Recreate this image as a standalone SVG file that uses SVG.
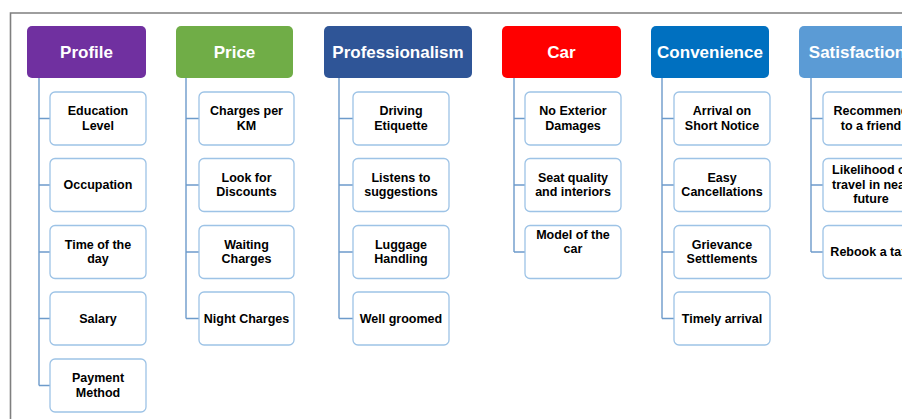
<svg xmlns="http://www.w3.org/2000/svg" width="902" height="419" viewBox="0 0 902 419">
<style>
.hdr rect{stroke:none}
.hdr text{fill:#fff;font-family:"Liberation Sans",Arial,sans-serif;font-weight:bold;font-size:17px;text-anchor:middle}
.box rect{fill:#fff;stroke:#9dc3e6;stroke-width:1.3}
.box text{fill:#000;font-family:"Liberation Sans",Arial,sans-serif;font-weight:bold;font-size:12.5px;text-anchor:middle}
.conn path{fill:none;stroke:#6d9bcb;stroke-width:1.4}
</style>
<rect width="902" height="419" fill="#fff"/>
<path d="M10.5,419 V13 H902" fill="none" stroke="#7f7f7f" stroke-width="1.6"/>
<g class="conn" id="connectors">
<path d="M39,78 V385.5 M39,118.5 H50 M39,185 H50 M39,252 H50 M39,318.5 H50 M39,385.5 H50"/>
<path d="M186,78 V318.5 M186,118.5 H199 M186,185 H199 M186,252 H199 M186,318.5 H199"/>
<path d="M339,78 V318.5 M339,118.5 H353 M339,185 H353 M339,252 H353 M339,318.5 H353"/>
<path d="M514,78 V252 M514,118.5 H525 M514,185 H525 M514,252 H525"/>
<path d="M662,78 V318.5 M662,118.5 H674 M662,185 H674 M662,252 H674 M662,318.5 H674"/>
<path d="M811,78 V252 M811,118.5 H823 M811,185 H823 M811,252 H823"/>
</g>
<g class="hdr" id="h-profile"><rect x="27" y="26" width="119" height="52" rx="5" fill="#7030a0"/><text x="86.5" y="57.5">Profile</text></g>
<g class="hdr" id="h-price"><rect x="176" y="26" width="117" height="52" rx="5" fill="#70ad47"/><text x="234.5" y="57.5">Price</text></g>
<g class="hdr" id="h-prof"><rect x="324" y="26" width="148" height="52" rx="5" fill="#2f5597"/><text x="398" y="57.5">Professionalism</text></g>
<g class="hdr" id="h-car"><rect x="502" y="26" width="119" height="52" rx="5" fill="#ff0000"/><text x="561.5" y="57.5">Car</text></g>
<g class="hdr" id="h-conv"><rect x="651" y="26" width="118" height="52" rx="5" fill="#0070c0"/><text x="710" y="57.5">Convenience</text></g>
<g class="hdr" id="h-sat"><rect x="799" y="26" width="116" height="52" rx="5" fill="#5b9bd5"/><text x="857" y="57.5">Satisfaction</text></g>

<g class="box" id="p1"><rect x="50" y="92" width="96" height="53" rx="5"/><text x="98" y="115">Education</text><text x="98" y="129.5">Level</text></g>
<g class="box" id="p2"><rect x="50" y="158.5" width="96" height="53" rx="5"/><text x="98" y="189">Occupation</text></g>
<g class="box" id="p3"><rect x="50" y="225.5" width="96" height="53" rx="5"/><text x="98" y="248.5">Time of the</text><text x="98" y="263">day</text></g>
<g class="box" id="p4"><rect x="50" y="292" width="96" height="53" rx="5"/><text x="98" y="322.5">Salary</text></g>
<g class="box" id="p5"><rect x="50" y="359" width="96" height="53" rx="5"/><text x="98" y="382">Payment</text><text x="98" y="396.5">Method</text></g>

<g class="box" id="r1"><rect x="199" y="92" width="95" height="53" rx="5"/><text x="246.5" y="115">Charges per</text><text x="246.5" y="129.5">KM</text></g>
<g class="box" id="r2"><rect x="199" y="158.5" width="95" height="53" rx="5"/><text x="246.5" y="181.5">Look for</text><text x="246.5" y="196">Discounts</text></g>
<g class="box" id="r3"><rect x="199" y="225.5" width="95" height="53" rx="5"/><text x="246.5" y="248.5">Waiting</text><text x="246.5" y="263">Charges</text></g>
<g class="box" id="r4"><rect x="199" y="292" width="95" height="53" rx="5"/><text x="246.5" y="322.5">Night Charges</text></g>

<g class="box" id="f1"><rect x="353" y="92" width="96" height="53" rx="5"/><text x="401" y="115">Driving</text><text x="401" y="129.5">Etiquette</text></g>
<g class="box" id="f2"><rect x="353" y="158.5" width="96" height="53" rx="5"/><text x="401" y="181.5">Listens to</text><text x="401" y="196">suggestions</text></g>
<g class="box" id="f3"><rect x="353" y="225.5" width="96" height="53" rx="5"/><text x="401" y="248.5">Luggage</text><text x="401" y="263">Handling</text></g>
<g class="box" id="f4"><rect x="353" y="292" width="96" height="53" rx="5"/><text x="401" y="322.5">Well groomed</text></g>

<g class="box" id="c1"><rect x="525" y="92" width="96" height="53" rx="5"/><text x="573" y="115">No Exterior</text><text x="573" y="129.5">Damages</text></g>
<g class="box" id="c2"><rect x="525" y="158.5" width="96" height="53" rx="5"/><text x="573" y="181.5">Seat quality</text><text x="573" y="196">and interiors</text></g>
<g class="box" id="c3"><rect x="525" y="225.5" width="96" height="53" rx="5"/><text x="573" y="238.5">Model of the</text><text x="573" y="253">car</text></g>

<g class="box" id="v1"><rect x="674" y="92" width="96" height="53" rx="5"/><text x="722" y="115">Arrival on</text><text x="722" y="129.5">Short Notice</text></g>
<g class="box" id="v2"><rect x="674" y="158.5" width="96" height="53" rx="5"/><text x="722" y="181.5">Easy</text><text x="722" y="196">Cancellations</text></g>
<g class="box" id="v3"><rect x="674" y="225.5" width="96" height="53" rx="5"/><text x="722" y="248.5">Grievance</text><text x="722" y="263">Settlements</text></g>
<g class="box" id="v4"><rect x="674" y="292" width="96" height="53" rx="5"/><text x="722" y="322.5">Timely arrival</text></g>

<g class="box" id="s1"><rect x="823" y="92" width="96" height="53" rx="5"/><text x="871" y="115">Recommend</text><text x="871" y="129.5">to a friend</text></g>
<g class="box" id="s2"><rect x="823" y="158.5" width="96" height="53" rx="5"/><text x="871" y="174">Likelihood of</text><text x="871" y="188.5">travel in near</text><text x="871" y="203">future</text></g>
<g class="box" id="s3"><rect x="823" y="225.5" width="96" height="53" rx="5"/><text x="871" y="256">Rebook a taxi</text></g>
</svg>
